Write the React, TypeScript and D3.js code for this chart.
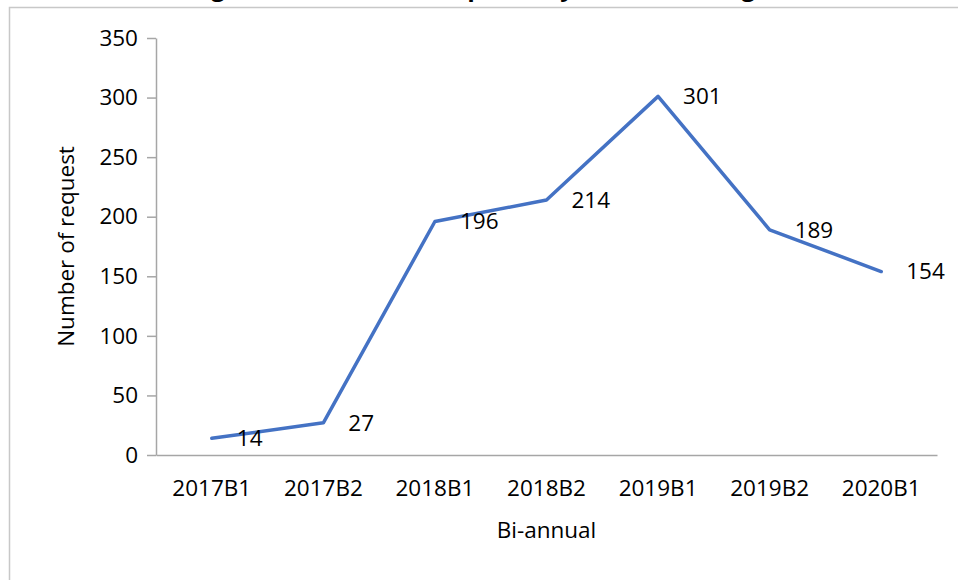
import { useEffect, useRef } from "react";
import * as d3 from "d3";

const periods = ["2017B1", "2017B2", "2018B1", "2018B2", "2019B1", "2019B2", "2020B1"];
const requests = [14, 27, 196, 214, 301, 189, 154];
const yTicks = [0, 50, 100, 150, 200, 250, 300, 350];

const chartTitle = "Figure 2: Number of requests by bi-annual range";
const yTitle = "Number of request";
const xTitle = "Bi-annual";

export default function App() {
  const chartRef = useRef<SVGSVGElement>(null);

  useEffect(() => {
    if (!chartRef.current) return;

    const width = 958;
    const height = 580;
    const margin = { top: 38, right: 21, bottom: 125, left: 156 };
    const font = "'Open Sans', sans-serif";
    const fontSize = "22.5px";

    const svg = d3.select(chartRef.current);
    svg.selectAll("*").remove();

    svg.append("rect").attr("width", width).attr("height", height).attr("fill", "#ffffff");

    // chart frame, cut by the page edge on the right and bottom
    svg
      .append("rect")
      .attr("x", 9.5)
      .attr("y", 7.5)
      .attr("width", 1000)
      .attr("height", 1000)
      .attr("fill", "none")
      .attr("stroke", "#c8c8c8")
      .attr("stroke-width", 1.5);

    // title sits above the frame and is mostly cropped away
    svg
      .append("text")
      .attr("x", 480)
      .attr("y", -4)
      .attr("text-anchor", "middle")
      .attr("font-family", font)
      .attr("font-weight", "bold")
      .attr("font-size", "24px")
      .attr("fill", "#000000")
      .text(chartTitle);

    const innerW = width - margin.left - margin.right;
    const innerH = height - margin.top - margin.bottom;

    const g = svg.append("g").attr("transform", `translate(${margin.left},${margin.top})`);

    const xScale = d3.scaleBand().domain(periods).range([0, innerW]);
    const yScale = d3.scaleLinear().domain([0, 350]).range([innerH, 0]);

    const yAxis = g
      .append("g")
      .call(d3.axisLeft(yScale).tickValues(yTicks).tickSize(9).tickPadding(9).tickSizeOuter(0));
    yAxis.select(".domain").attr("stroke", "#a6a6a6").attr("stroke-width", 1.5);
    yAxis.selectAll(".tick line").attr("stroke", "#a6a6a6").attr("stroke-width", 1.5);
    yAxis
      .selectAll("text")
      .attr("font-family", font)
      .attr("font-size", fontSize)
      .attr("fill", "#000000");

    const xAxis = g
      .append("g")
      .attr("transform", `translate(0,${innerH})`)
      .call(d3.axisBottom(xScale).tickSize(0).tickPadding(25).tickSizeOuter(0));
    xAxis.select(".domain").attr("stroke", "#a6a6a6").attr("stroke-width", 1.5);
    xAxis
      .selectAll("text")
      .attr("font-family", font)
      .attr("font-size", fontSize)
      .attr("fill", "#000000");

    const cx = (p: string) => (xScale(p) || 0) + xScale.bandwidth() / 2;

    const line = d3
      .line<number>()
      .x((_, i) => cx(periods[i]))
      .y((d) => yScale(d));

    g.append("path")
      .datum(requests)
      .attr("d", line)
      .attr("fill", "none")
      .attr("stroke", "#4472c4")
      .attr("stroke-width", 3.5)
      .attr("stroke-linejoin", "round")
      .attr("stroke-linecap", "round");

    g.selectAll(".value-label")
      .data(requests)
      .enter()
      .append("text")
      .attr("class", "value-label")
      .attr("x", (_, i) => cx(periods[i]) + 25)
      .attr("y", (d) => yScale(d))
      .attr("dy", "0.35em")
      .attr("font-family", font)
      .attr("font-size", fontSize)
      .attr("fill", "#000000")
      .text((d) => String(d));

    svg
      .append("text")
      .attr("transform", `translate(74,${margin.top + innerH / 2}) rotate(-90)`)
      .attr("text-anchor", "middle")
      .attr("font-family", font)
      .attr("font-size", fontSize)
      .attr("fill", "#000000")
      .text(yTitle);

    svg
      .append("text")
      .attr("x", margin.left + innerW / 2)
      .attr("y", 538)
      .attr("text-anchor", "middle")
      .attr("font-family", font)
      .attr("font-size", fontSize)
      .attr("fill", "#000000")
      .text(xTitle);
  }, []);

  return (
    <svg
      ref={chartRef}
      width={958}
      height={580}
      style={{ position: "absolute", left: 0, top: 0, display: "block" }}
    />
  );
}
